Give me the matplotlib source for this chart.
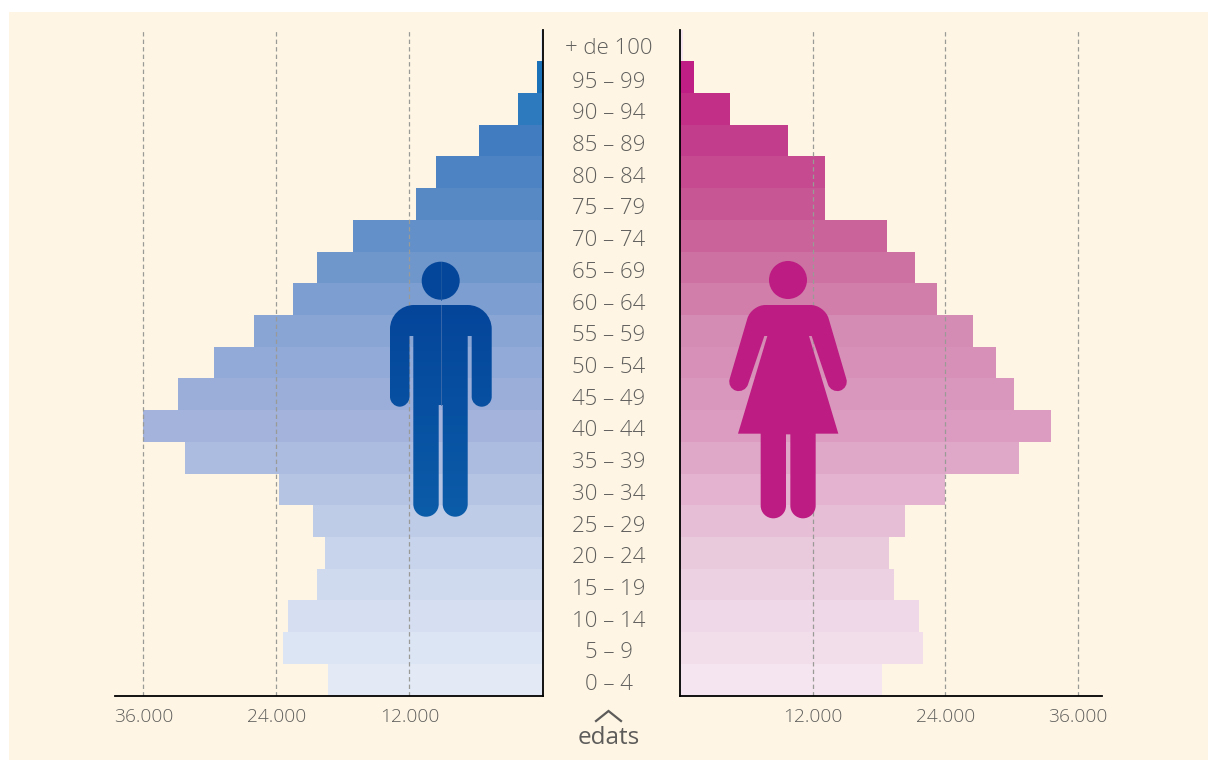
import numpy as np
import matplotlib
matplotlib.use('Agg')
import matplotlib.pyplot as plt
from matplotlib.colors import LinearSegmentedColormap
from matplotlib.patches import Circle, PathPatch, Rectangle
from matplotlib.path import Path

W, H = 1208, 760

edats = ['0 – 4', '5 – 9', '10 – 14', '15 – 19', '20 – 24', '25 – 29', '30 – 34',
         '35 – 39', '40 – 44', '45 – 49', '50 – 54', '55 – 59', '60 – 64', '65 – 69',
         '70 – 74', '75 – 79', '80 – 84', '85 – 89', '90 – 94', '95 – 99', '+ de 100']
homes = [19350, 23400, 22950, 20350, 19600, 20700, 23770, 32250, 36000, 32900, 29640,
         26030, 22510, 20350, 17100, 11410, 9610, 5730, 2210, 500, 100]
dones = [18230, 22000, 21620, 19370, 18860, 20370, 24000, 30680, 33550, 30220, 28600,
         26530, 23280, 21280, 18680, 13080, 13080, 9740, 4510, 1260, 300]
ticks = [12000, 24000, 36000]
tick_labels = ['12.000', '24.000', '36.000']

CREAM = '#fef5e4'
TEXT = '#605f5d'
FONT = 'Open Sans'

stops = [0, 4 / 19, 8 / 19, 11 / 19, 14 / 19, 17 / 19, 18 / 19, 1]
blues = LinearSegmentedColormap.from_list('b', list(zip(stops, [
    '#e3eaf6', '#c8d4ec', '#a3b3dc', '#89a5d4', '#6390c8', '#427cc0', '#2e7abf', '#1a71b8'])))
pinks = LinearSegmentedColormap.from_list('p', list(zip(stops, [
    '#f5e5f0', '#e9cadd', '#dc9cc1', '#d48cb4', '#ca6399', '#c23e8c', '#c13087', '#bf1f85'])))


def px_axes(fig, x0, x1, y0, y1):
    return fig.add_axes([x0 / W, 1 - y1 / H, (x1 - x0) / W, (y1 - y0) / H])


def pyramid(ax, values, cmap):
    y = np.arange(len(values))
    n = len(values) - 2
    colors = [cmap(min(i / n, 1)) for i in y]
    ax.barh(y, values, height=1.0, color=colors, linewidth=0, zorder=1)
    ax.set_ylim(-0.5, len(values) - 0.5)
    ax.set_yticks([])
    ax.set_xticks(ticks)
    ax.set_xticklabels(tick_labels, fontsize=13.8, color=TEXT, family=FONT, fontweight='light')
    ax.tick_params(axis='x', length=0, pad=9)
    ax.patch.set_alpha(0)
    ax.spines['top'].set_visible(False)
    ax.spines['bottom'].set_linewidth(1.3)
    for t in ticks:
        ax.axvline(t, color='#9a9a96', lw=0.9, ls=(0, (3.5, 2.5)), zorder=2)


def rounded(points):
    # points are (x, y, d): a corner cut back by d along both edges
    verts, codes = [], []
    n = len(points)
    for i, (x, y, d) in enumerate(points):
        p = np.array([x, y], float)
        a = np.array(points[i - 1][:2], float) - p
        b = np.array(points[(i + 1) % n][:2], float) - p
        a /= np.hypot(*a)
        b /= np.hypot(*b)
        if d == 0:
            verts.append(p)
            codes.append(Path.LINETO)
        else:
            verts += [p + a * d, p + a * d * 0.45, p + b * d * 0.45, p + b * d]
            codes += [Path.LINETO, Path.CURVE4, Path.CURVE4, Path.CURVE4]
    codes[0] = Path.MOVETO
    verts.append(verts[0])
    codes.append(Path.CLOSEPOLY)
    return Path(verts, codes)


def gradient_fill(ax, patch, top, bottom):
    # icon colour shifts slightly from top to bottom
    ax.add_patch(patch)
    x0, y0, x1, y1 = patch.get_path().get_extents().extents
    cm = LinearSegmentedColormap.from_list('g', [top, bottom])
    im = ax.imshow(np.linspace(0, 1, 256).reshape(-1, 1), cmap=cm, aspect='auto',
                   extent=[x0, x1, y1, y0], zorder=3)
    im.set_clip_path(patch)


man_points = [(390, 305, 24), (491.7, 305, 24), (491.7, 406.7, 10), (471.7, 406.7, 10),
              (471.7, 336, 0), (467.7, 336, 0), (467.7, 516.7, 12.5), (442.7, 516.7, 12.5),
              (442.7, 405, 0), (438.7, 405, 0), (438.7, 516.7, 12.5), (413.3, 516.7, 12.5),
              (413.3, 336, 0), (409.5, 336, 0), (409.5, 406.7, 10), (390, 406.7, 10)]

# traced in a 3x crop, moved back to figure pixels below
woman_points = [(94, 165, 42), (314, 165, 42), (387, 414, 28), (333, 430, 28),
                (275, 258, 0), (267, 258, 0), (355, 551, 0), (287, 551, 0),
                (287, 805, 38), (211, 805, 38), (211, 553, 0), (198, 553, 0),
                (198, 805, 38), (122, 805, 38), (122, 551, 0), (54, 551, 0),
                (142, 258, 0), (133, 258, 0), (75, 430, 28), (21, 414, 28)]
woman_points = [(720 + x / 3, 250 + y / 3, d / 3) for x, y, d in woman_points]

fig = plt.figure(figsize=(W / 100, H / 100), dpi=100, facecolor='white')

# cream panel
bg = px_axes(fig, 0, W, 0, H)
bg.set_xlim(0, W)
bg.set_ylim(H, 0)
bg.axis('off')
bg.add_patch(Rectangle((9, 12), 1199, 748, color=CREAM, lw=0))

left = px_axes(fig, 115, 542.5, 29.5, 695.5)
left.set_xlim(38570, 0)
left.spines['left'].set_visible(False)
left.spines['right'].set_linewidth(1.3)
pyramid(left, homes, blues)

right = px_axes(fig, 680, 1102, 29.5, 695.5)
right.set_xlim(0, 38170)
right.spines['right'].set_visible(False)
right.spines['left'].set_linewidth(1.3)
pyramid(right, dones, pinks)

# age labels and icons, in figure pixels
over = px_axes(fig, 0, W, 0, H)
over.patch.set_alpha(0)
over.axis('off')

row_h = 666 / len(edats)
for i, lab in enumerate(edats):
    yc = 695.5 - row_h * (i + 0.5)
    over.text(609, yc + 5 - (1.5 if i == 20 else 0), lab, ha='center', va='center',
              fontsize=16, color=TEXT, family=FONT, fontweight='light')

over.plot([596, 608.5, 621], [721, 711, 721], color='#5d5c5a', lw=1.6, solid_joinstyle='miter')
over.text(608.5, 738, 'edats', ha='center', va='center', fontsize=17.5, color='#5d5c5a', family=FONT)

gradient_fill(over, PathPatch(rounded(man_points), fc='none', lw=0), '#04459a', '#0b5ca9')
over.add_patch(Circle((440.7, 280.7), 19, color='#04469a', lw=0, zorder=3))
over.plot([440.6, 440.6], [305, 405], color='#3f6cab', lw=0.6, zorder=4)
over.plot([440.6, 440.6], [262, 299.5], color='#1e57a0', lw=0.6, zorder=4)

over.add_patch(PathPatch(rounded(woman_points), fc='#bd1c82', lw=0, zorder=3))
over.add_patch(Circle((788, 280), 19, color='#bd1c82', lw=0, zorder=3))

over.set_xlim(0, W)
over.set_ylim(H, 0)

fig.savefig('out.png', dpi=100, facecolor='white')
